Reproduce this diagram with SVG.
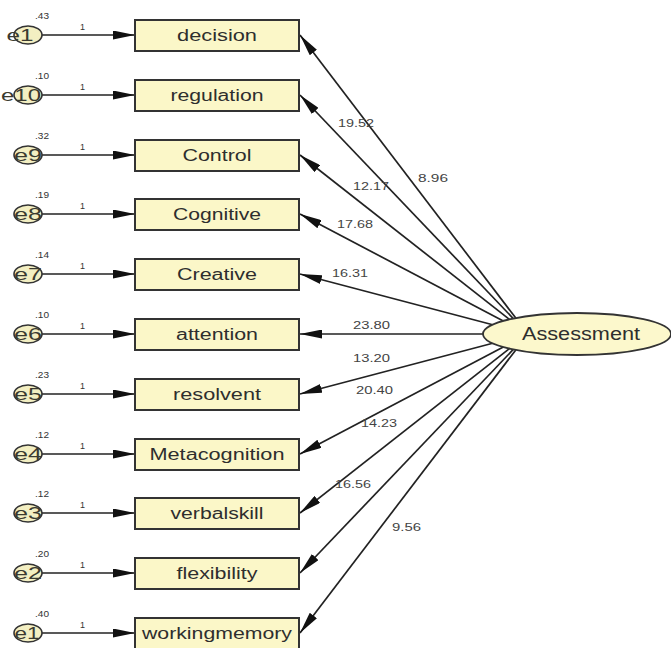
<svg xmlns="http://www.w3.org/2000/svg" width="671" height="648" viewBox="0 0 671 648">
<style>
.box{fill:#fbf7c8;stroke:#333;stroke-width:2}
.err{fill:#f3efc2;stroke:#333;stroke-width:1.6}
.lat{fill:#fcf8cc;stroke:#333;stroke-width:1.8}
.t{font-family:"Liberation Sans",Arial,sans-serif;fill:#2e2e2e}
.lbl{font-size:16px;text-anchor:middle}
.el{font-size:17px;text-anchor:middle;fill:#3a3a30}
.num{font-size:11.5px;fill:#444}
.sm{font-size:9px;fill:#333}
.c{stroke:#222;stroke-width:1.7;fill:none}
</style>
<defs>
<marker id="ah" markerUnits="userSpaceOnUse" markerWidth="22" markerHeight="9" refX="22" refY="4.5" orient="auto">
<path d="M0,0 L22,4.5 L0,9 z" fill="#111"/>
</marker>
</defs>
<rect width="671" height="648" fill="#fff"/>
<g id="connectors">
<g class="c" marker-end="url(#ah)">
<line x1="42" y1="35" x2="135" y2="35"/>
<line x1="42" y1="95" x2="135" y2="95"/>
<line x1="42" y1="155" x2="135" y2="155"/>
<line x1="42" y1="214" x2="135" y2="214"/>
<line x1="42" y1="274" x2="135" y2="274"/>
<line x1="42" y1="334" x2="135" y2="334"/>
<line x1="42" y1="394" x2="135" y2="394"/>
<line x1="42" y1="454" x2="135" y2="454"/>
<line x1="42" y1="513" x2="135" y2="513"/>
<line x1="42" y1="573" x2="135" y2="573"/>
<line x1="42" y1="633" x2="135" y2="633"/>
<line x1="515.8" y1="318.1" x2="300" y2="35"/>
<line x1="513.3" y1="318.6" x2="300" y2="95"/>
<line x1="509.4" y1="319.4" x2="300" y2="155"/>
<line x1="503.3" y1="321" x2="300" y2="214"/>
<line x1="492.7" y1="324.7" x2="300" y2="274"/>
<line x1="483" y1="334" x2="300" y2="334"/>
<line x1="492.7" y1="343.3" x2="300" y2="394"/>
<line x1="503.3" y1="347" x2="300" y2="454"/>
<line x1="509.4" y1="348.6" x2="300" y2="513"/>
<line x1="513.3" y1="349.4" x2="300" y2="573"/>
<line x1="515.8" y1="349.9" x2="300" y2="633"/>
</g>
<g class="t sm">
<text x="80" y="30">1</text>
<text x="80" y="90">1</text>
<text x="80" y="150">1</text>
<text x="80" y="209">1</text>
<text x="80" y="269">1</text>
<text x="80" y="329">1</text>
<text x="80" y="389">1</text>
<text x="80" y="449">1</text>
<text x="80" y="508">1</text>
<text x="80" y="568">1</text>
<text x="80" y="628">1</text>
</g>
<g class="t num">
<text x="338" y="127" textLength="36" lengthAdjust="spacingAndGlyphs">19.52</text>
<text x="418" y="182" textLength="30" lengthAdjust="spacingAndGlyphs">8.96</text>
<text x="353" y="190" textLength="36" lengthAdjust="spacingAndGlyphs">12.17</text>
<text x="337" y="228" textLength="36" lengthAdjust="spacingAndGlyphs">17.68</text>
<text x="332" y="277" textLength="36" lengthAdjust="spacingAndGlyphs">16.31</text>
<text x="353" y="329" textLength="37" lengthAdjust="spacingAndGlyphs">23.80</text>
<text x="353" y="362" textLength="37" lengthAdjust="spacingAndGlyphs">13.20</text>
<text x="356" y="394" textLength="37" lengthAdjust="spacingAndGlyphs">20.40</text>
<text x="361" y="427" textLength="36" lengthAdjust="spacingAndGlyphs">14.23</text>
<text x="335" y="488" textLength="36" lengthAdjust="spacingAndGlyphs">16.56</text>
<text x="392" y="531" textLength="29" lengthAdjust="spacingAndGlyphs">9.56</text>
</g>
</g>
<g id="e11"><ellipse class="err" cx="28" cy="35" rx="14" ry="9"/><text class="t el" x="20" y="41" textLength="27" lengthAdjust="spacingAndGlyphs">e1</text><text class="t sm" x="35" y="19" textLength="14" lengthAdjust="spacingAndGlyphs">.43</text></g>
<g id="e10"><ellipse class="err" cx="28" cy="95" rx="14" ry="9"/><text class="t el" x="21" y="101" textLength="40" lengthAdjust="spacingAndGlyphs">e10</text><text class="t sm" x="35" y="79" textLength="14" lengthAdjust="spacingAndGlyphs">.10</text></g>
<g id="e9"><ellipse class="err" cx="28" cy="155" rx="14" ry="9"/><text class="t el" x="28" y="161" textLength="28" lengthAdjust="spacingAndGlyphs">e9</text><text class="t sm" x="35" y="139" textLength="14" lengthAdjust="spacingAndGlyphs">.32</text></g>
<g id="e8"><ellipse class="err" cx="28" cy="214" rx="14" ry="9"/><text class="t el" x="28" y="220" textLength="28" lengthAdjust="spacingAndGlyphs">e8</text><text class="t sm" x="35" y="198" textLength="14" lengthAdjust="spacingAndGlyphs">.19</text></g>
<g id="e7"><ellipse class="err" cx="28" cy="274" rx="14" ry="9"/><text class="t el" x="28" y="280" textLength="28" lengthAdjust="spacingAndGlyphs">e7</text><text class="t sm" x="35" y="258" textLength="14" lengthAdjust="spacingAndGlyphs">.14</text></g>
<g id="e6"><ellipse class="err" cx="28" cy="334" rx="14" ry="9"/><text class="t el" x="28" y="340" textLength="28" lengthAdjust="spacingAndGlyphs">e6</text><text class="t sm" x="35" y="318" textLength="14" lengthAdjust="spacingAndGlyphs">.10</text></g>
<g id="e5"><ellipse class="err" cx="28" cy="394" rx="14" ry="9"/><text class="t el" x="28" y="400" textLength="28" lengthAdjust="spacingAndGlyphs">e5</text><text class="t sm" x="35" y="378" textLength="14" lengthAdjust="spacingAndGlyphs">.23</text></g>
<g id="e4"><ellipse class="err" cx="28" cy="454" rx="14" ry="9"/><text class="t el" x="28" y="460" textLength="28" lengthAdjust="spacingAndGlyphs">e4</text><text class="t sm" x="35" y="438" textLength="14" lengthAdjust="spacingAndGlyphs">.12</text></g>
<g id="e3"><ellipse class="err" cx="28" cy="513" rx="14" ry="9"/><text class="t el" x="28" y="519" textLength="28" lengthAdjust="spacingAndGlyphs">e3</text><text class="t sm" x="35" y="497" textLength="14" lengthAdjust="spacingAndGlyphs">.12</text></g>
<g id="e2"><ellipse class="err" cx="28" cy="573" rx="14" ry="9"/><text class="t el" x="28" y="579" textLength="28" lengthAdjust="spacingAndGlyphs">e2</text><text class="t sm" x="35" y="557" textLength="14" lengthAdjust="spacingAndGlyphs">.20</text></g>
<g id="e1"><ellipse class="err" cx="28" cy="633" rx="14" ry="9"/><text class="t el" x="27" y="639" textLength="25" lengthAdjust="spacingAndGlyphs">e1</text><text class="t sm" x="35" y="617" textLength="14" lengthAdjust="spacingAndGlyphs">.40</text></g>
<g id="decision"><rect class="box" x="135" y="20" width="164" height="31"/><text class="t lbl" x="217" y="41" textLength="80" lengthAdjust="spacingAndGlyphs">decision</text></g>
<g id="regulation"><rect class="box" x="135" y="80" width="164" height="31"/><text class="t lbl" x="217" y="101" textLength="93" lengthAdjust="spacingAndGlyphs">regulation</text></g>
<g id="Control"><rect class="box" x="135" y="140" width="164" height="31"/><text class="t lbl" x="217" y="161" textLength="69" lengthAdjust="spacingAndGlyphs">Control</text></g>
<g id="Cognitive"><rect class="box" x="135" y="199" width="164" height="31"/><text class="t lbl" x="217" y="220" textLength="88" lengthAdjust="spacingAndGlyphs">Cognitive</text></g>
<g id="Creative"><rect class="box" x="135" y="259" width="164" height="31"/><text class="t lbl" x="217" y="280" textLength="80" lengthAdjust="spacingAndGlyphs">Creative</text></g>
<g id="attention"><rect class="box" x="135" y="319" width="164" height="31"/><text class="t lbl" x="217" y="340" textLength="82" lengthAdjust="spacingAndGlyphs">attention</text></g>
<g id="resolvent"><rect class="box" x="135" y="379" width="164" height="31"/><text class="t lbl" x="217" y="400" textLength="88" lengthAdjust="spacingAndGlyphs">resolvent</text></g>
<g id="Metacognition"><rect class="box" x="135" y="439" width="164" height="31"/><text class="t lbl" x="217" y="460" textLength="135" lengthAdjust="spacingAndGlyphs">Metacognition</text></g>
<g id="verbalskill"><rect class="box" x="135" y="498" width="164" height="31"/><text class="t lbl" x="217" y="519" textLength="93" lengthAdjust="spacingAndGlyphs">verbalskill</text></g>
<g id="flexibility"><rect class="box" x="135" y="558" width="164" height="31"/><text class="t lbl" x="217" y="579" textLength="81" lengthAdjust="spacingAndGlyphs">flexibility</text></g>
<g id="workingmemory"><rect class="box" x="135" y="618" width="164" height="31"/><text class="t lbl" x="217" y="639" textLength="150" lengthAdjust="spacingAndGlyphs">workingmemory</text></g>
<g id="Assessment"><ellipse class="lat" cx="577" cy="334" rx="94" ry="21"/><text class="t" x="581" y="340" font-size="17.5" text-anchor="middle" textLength="118" lengthAdjust="spacingAndGlyphs">Assessment</text></g>
</svg>
